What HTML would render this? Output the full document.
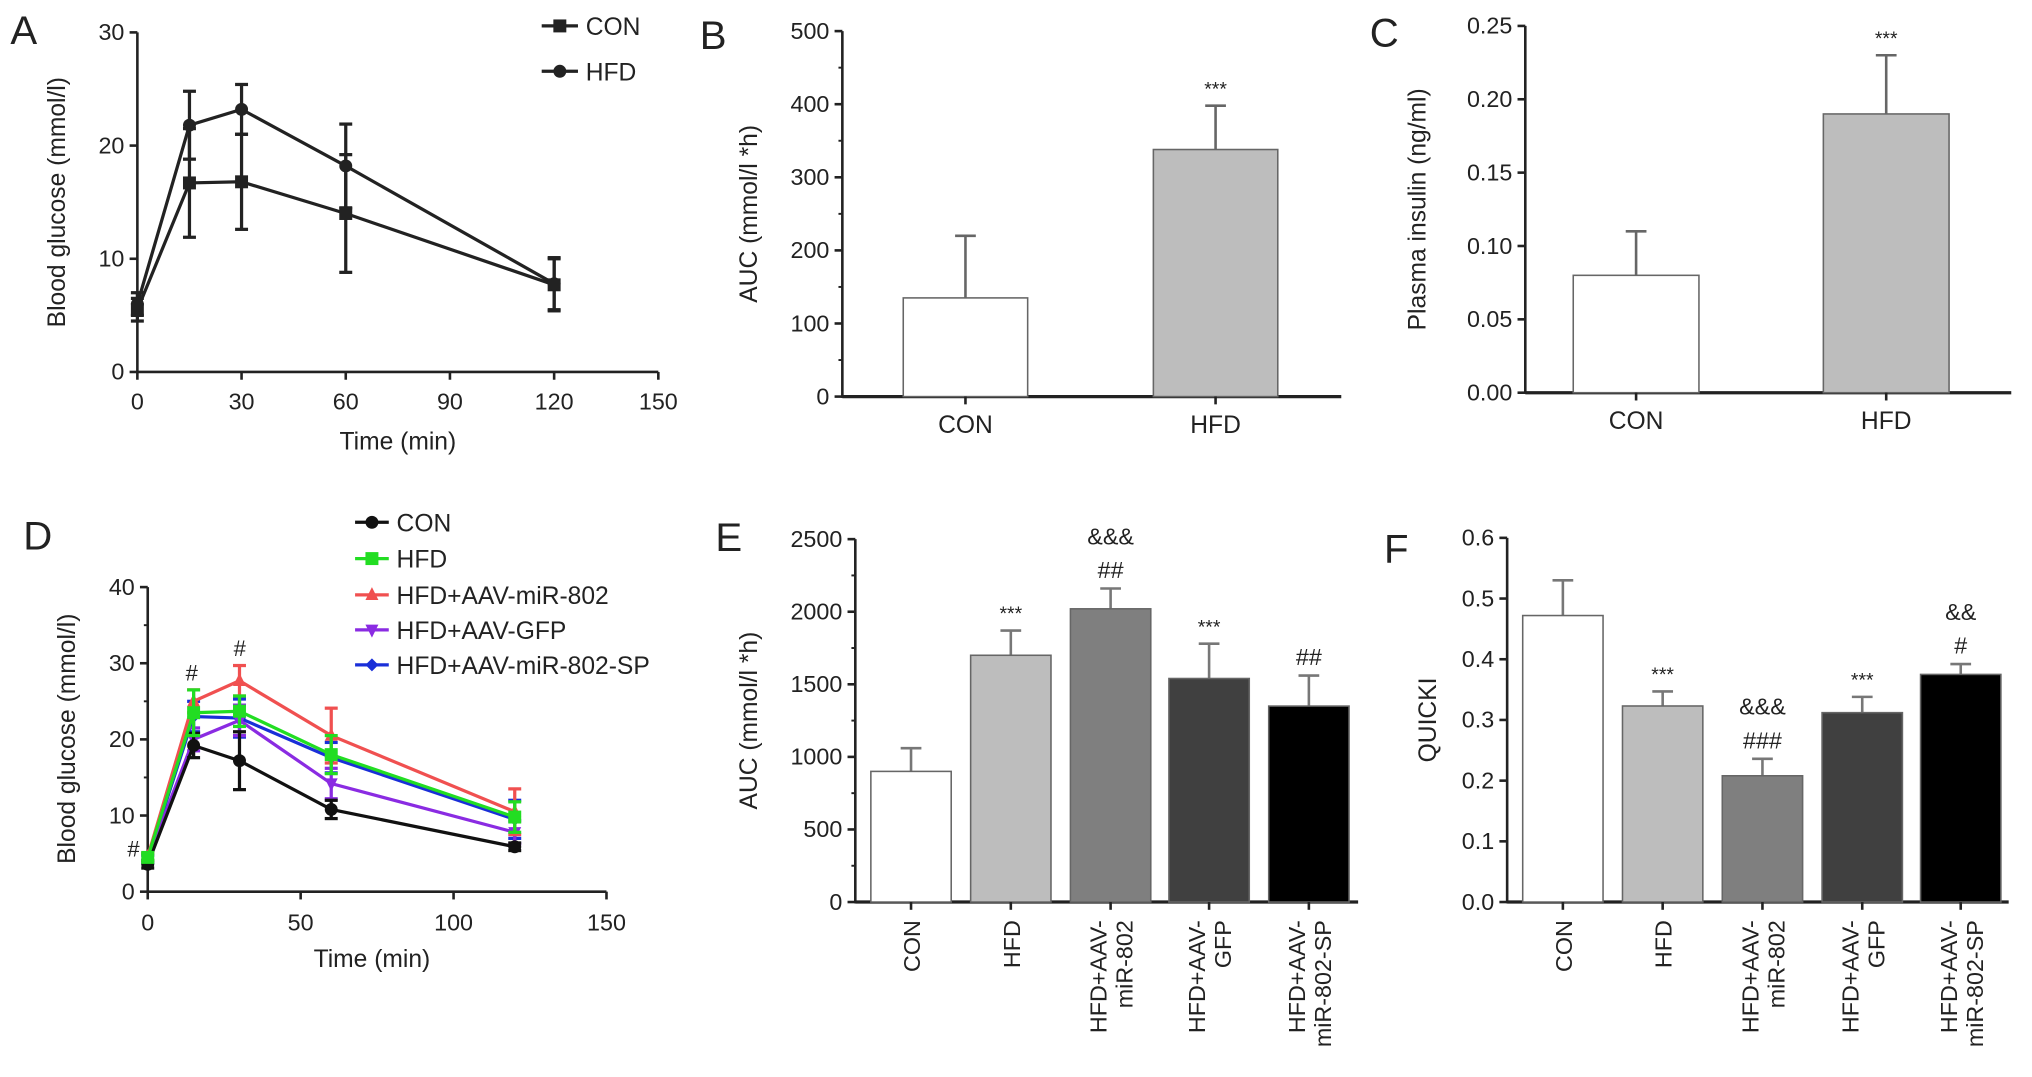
<!DOCTYPE html>
<html><head><meta charset="utf-8"><style>
html,body{margin:0;padding:0;background:#fff;}
svg{display:block;font-family:"Liberation Sans",sans-serif;}
</style></head><body>
<svg id="fig" width="2032" height="1077" viewBox="0 0 1568 831" preserveAspectRatio="none"></svg>
<script>
// Panel A data
const aTimes=[0,15,30,60,120];
const aCon=[5.5,16.7,16.8,14.0,7.7];
const aConErr=[1.0,4.8,4.2,5.2,2.3];
const aHfd=[6.0,21.8,23.2,18.2,7.8];
const aHfdErr=[1.0,3.0,2.2,3.7,2.3];
// Panel B data
const bCats=["CON","HFD"];
const bVals=[135,338];
const bErr=[85,60];
// Panel C data
const cCats=["CON","HFD"];
const cVals=[0.08,0.19];
const cErr=[0.03,0.04];
// Panel D data
const dTimes=[0,15,30,60,120];
const dNames=["CON","HFD","HFD+AAV-miR-802","HFD+AAV-GFP","HFD+AAV-miR-802-SP"];
const dCon=[3.6,19.2,17.2,10.8,5.9];
const dHfd=[4.5,23.5,23.7,18.0,9.8];
const dMir=[4.6,25.0,27.7,20.5,10.5];
const dGfp=[4.3,20.0,22.5,14.2,7.8];
const dSp=[4.3,23.0,22.8,17.6,9.5];
const dConErr=[0.5,1.6,3.8,1.2,0.5];
const dHfdErr=[0.5,3.0,2.0,2.5,2.0];
const dMirErr=[0.5,1.5,2.0,3.6,3.0];
const dGfpErr=[0.5,1.5,2.0,2.0,1.5];
const dSpErr=[0.5,2.0,2.5,2.0,2.5];
// Panel E / F data
const efCats=[["CON"],["HFD"],["HFD+AAV-","miR-802"],["HFD+AAV-","GFP"],["HFD+AAV-","miR-802-SP"]];
const eVals=[900,1700,2020,1540,1350];
const eErr=[160,170,140,240,210];
const eMarks=[[],["***"],["&&&","##"],["***"],["##"]];
const fVals=[0.472,0.323,0.208,0.312,0.375];
const fErr=[0.058,0.024,0.028,0.026,0.017];
const fMarks=[[],["***"],["&&&","###"],["***"],["&&","#"]];

const NS="http://www.w3.org/2000/svg";
const svg=document.getElementById('fig');
function mk(tag,attrs,parent,name){
  const e=document.createElementNS(NS,tag);
  for(const k in attrs)e.setAttribute(k,attrs[k]);
  
  
  (parent||svg).appendChild(e);return e;
}
function txt(x,y,s,size,anchor,parent,name,extra){
  const t=mk('text',Object.assign({x:x,y:y,'font-size':size,'text-anchor':anchor||'middle',fill:'#222'},extra||{}),parent,name);
  t.textContent=s;return t;
}
function line(x1,y1,x2,y2,w,col,parent,name){return mk('line',{x1,y1,x2,y2,stroke:col||'#222','stroke-width':w||2},parent,name);}
function scale(d0,d1,r0,r1){return v=>r0+(v-d0)/(d1-d0)*(r1-r0);}

function yAxis(g,x,y0,y1,ticks,fmt,sy,minor){
  line(x,y0+1,x,y1,2,'#222',g,'y-axis-line');
  ticks.forEach(v=>{const y=sy(v);line(x-6,y,x,y,2,'#222',g,'y-tick');txt(x-10,y+6,fmt(v),18,'end',g,'y-tick-label');});
  if(minor)minor.forEach(v=>{const y=sy(v);line(x-3,y,x,y,1.5,'#222',g,'y-minor-tick');});
}
function panelLetter(x,y,s){txt(x,y,s,31,'start',svg,'panel-label-'+s.toLowerCase());}
function yTitle(g,x,y,s,name){txt(x,y,s,19,'middle',g,name,{transform:`rotate(-90 ${x} ${y})`});}

function lineChart(g,times,series,errs,colors,markers,sx,sy,prefix){
  series.forEach((vals,si)=>{
    const pts=times.map((t,i)=>sx(t)+','+sy(vals[i])).join(' ');
    mk('polyline',{points:pts,fill:'none',stroke:colors[si],'stroke-width':2.5},g,prefix+'-line-'+si);
    times.forEach((t,i)=>{
      const x=sx(t),yt=sy(vals[i]+errs[si][i]),yb=sy(vals[i]-errs[si][i]);
      line(x,yt,x,yb,2.5,colors[si],g,prefix+'-errorbar');
      line(x-5,yt,x+5,yt,2.5,colors[si],g,prefix+'-errorcap');
      line(x-5,yb,x+5,yb,2.5,colors[si],g,prefix+'-errorcap');
      marker(g,markers[si],x,sy(vals[i]),colors[si],prefix+'-point');
    });
  });
}
function marker(g,type,x,y,c,name){
  const r=5;
  if(type==='sq')mk('rect',{x:x-r,y:y-r,width:2*r,height:2*r,fill:c},g,name);
  else if(type==='tri')mk('polygon',{points:`${x},${y-r-1} ${x-r},${y+r-1} ${x+r},${y+r-1}`,fill:c},g,name);
  else if(type==='dtri')mk('polygon',{points:`${x},${y+r+1} ${x-r},${y-r+1} ${x+r},${y-r+1}`,fill:c},g,name);
  else if(type==='dia')mk('polygon',{points:`${x},${y-r} ${x+r},${y} ${x},${y+r} ${x-r},${y}`,fill:c},g,name);
  else mk('circle',{cx:x,cy:y,r:r,fill:c},g,name);
}

// ---------- Panel A
(function(){
  const g=mk('g',{},svg,'panel-a');
  panelLetter(8,34,'A');
  const sx=scale(0,150,106,508), sy=scale(0,30,287,25);
  yAxis(g,106,287,25,[0,10,20,30],v=>v,sy);
  line(106,287,508,287,2,'#222',g,'x-axis-line');
  [0,30,60,90,120,150].forEach(v=>{const x=sx(v);line(x,287,x,293,2,'#222',g,'x-tick');txt(x,316,v,18,'middle',g,'x-tick-label');});
  txt(307,347,'Time (min)',19,'middle',g,'x-axis-title');
  yTitle(g,50,156,'Blood glucose (mmol/l)','y-axis-title');
  lineChart(g,aTimes,[aCon,aHfd],[aConErr,aHfdErr],['#222','#222'],['sq','circ'],sx,sy,'a');
  const L=[['CON','sq',20],['HFD','circ',55]];
  L.forEach(([n,m,y])=>{line(418,y,446,y,2.5,'#222',g,'legend-line');marker(g,m,432,y,'#222','legend-marker');txt(452,y+7,n,19,'start',g,'legend-label');});
})();

// ---------- Bar chart helper
function barChart(opts){
  const g=mk('g',{},svg,opts.name);
  const sy=scale(opts.d0,opts.d1,opts.y0,opts.y1);
  yAxis(g,opts.ax,opts.y0,opts.y1,opts.ticks,opts.fmt,sy,opts.minor);
  line(opts.ax,opts.y0,opts.axEnd,opts.y0,2.5,'#222',g,'x-axis-line');
  opts.vals.forEach((v,i)=>{
    const x=opts.bx[i], w=opts.bw, top=sy(v), etop=sy(v+opts.err[i]), cx=x+w/2;
    line(cx,top,cx,etop,2,opts.errCol||'#777',g,'error-bar');
    line(cx-8,etop,cx+8,etop,2,opts.errCol||'#777',g,'error-cap');
    mk('rect',{x:x,y:top,width:w,height:opts.y0-top,fill:opts.fills[i],stroke:'#666','stroke-width':1.2},g,'bar-'+i);
    line(cx,opts.y0,cx,opts.y0+6,2,'#222',g,'x-tick');
    if(opts.marks){const mks=opts.marks[i];mks.forEach((s,j)=>{const y=etop-8-(mks.length-1-j)*26;txt(cx,y,s,s.indexOf('*')>=0?15:18,'middle',g,'significance-mark');});}
    const lab=opts.cats[i];
    if(opts.rotate){
      lab.forEach((s,j)=>{const lx=cx-(lab.length-1)*10+j*20+7, ly=opts.y0+14;txt(lx,ly,s,18,'end',g,'x-tick-label',{transform:`rotate(-90 ${lx} ${ly})`});});
    } else txt(cx,opts.y0+28,lab,19,'middle',g,'x-tick-label');
  });
  yTitle(g,opts.tx,(opts.y0+opts.y1)/2,opts.title,'y-axis-title');
  return g;
}

// ---------- Panel B
panelLetter(540,38,'B');
barChart({name:'panel-b',ax:650,axEnd:1035,y0:306,y1:24,d0:0,d1:500,ticks:[0,100,200,300,400,500],fmt:v=>v,
  minor:[50,150,250,350,450],vals:bVals,err:bErr,bx:[697,890],bw:96,fills:['#fff','#bdbdbd'],cats:bCats,
  marks:[[],["***"]],tx:584,title:'AUC (mmol/l *h)',errCol:'#666'});

// ---------- Panel C
panelLetter(1057,36,'C');
barChart({name:'panel-c',ax:1177,axEnd:1552,y0:303,y1:20,d0:0,d1:0.25,ticks:[0,0.05,0.1,0.15,0.2,0.25],fmt:v=>v.toFixed(2),
  vals:cVals,err:cErr,bx:[1214,1407],bw:97,fills:['#fff','#bdbdbd'],cats:cCats,
  marks:[[],["***"]],tx:1100,title:'Plasma insulin (ng/ml)',errCol:'#666'});

// ---------- Panel D
(function(){
  const g=mk('g',{},svg,'panel-d');
  panelLetter(18,424,'D');
  const sx=scale(0,150,114,468), sy=scale(0,40,688,453);
  yAxis(g,114,688,453,[0,10,20,30,40],v=>v,sy,[5,15,25,35]);
  line(114,688,468,688,2,'#222',g,'x-axis-line');
  [0,50,100,150].forEach(v=>{const x=sx(v);line(x,688,x,694,2,'#222',g,'x-tick');txt(x,718,v,18,'middle',g,'x-tick-label');});
  txt(287,746,'Time (min)',19,'middle',g,'x-axis-title');
  yTitle(g,58,570,'Blood glucose (mmol/l)','y-axis-title');
  const cols=['#111','#22dd22','#f05050','#8a2be2','#1a2fd8'];
  const mks=['circ','sq','tri','dtri','dia'];
  const order=[4,3,2,0,1];
  const S=[dCon,dHfd,dMir,dGfp,dSp], E=[dConErr,dHfdErr,dMirErr,dGfpErr,dSpErr];
  order.forEach(i=>lineChart(g,dTimes,[S[i]],[E[i]],[cols[i]],[mks[i]],sx,sy,'d-'+i));
  txt(103,661,'#',17,'middle',g,'significance-mark');
  txt(148,525,'#',17,'middle',g,'significance-mark');
  txt(185,506,'#',17,'middle',g,'significance-mark');
  const ly=[403,431,459,486,513];
  dNames.forEach((n,i)=>{line(274,ly[i],300,ly[i],2.5,cols[i],g,'legend-line');marker(g,mks[i],287,ly[i],cols[i],'legend-marker');txt(306,ly[i]+7,n,19,'start',g,'legend-label');});
})();

// ---------- Panel E
panelLetter(552,425,'E');
barChart({name:'panel-e',ax:660,axEnd:1048,y0:696,y1:416,d0:0,d1:2500,ticks:[0,500,1000,1500,2000,2500],fmt:v=>v,
  minor:[250,750,1250,1750,2250],vals:eVals,err:eErr,bx:[672,749,826,902,979],bw:62,
  fills:['#fff','#bdbdbd','#7f7f7f','#404040','#000'],cats:efCats,rotate:true,marks:eMarks,tx:584,title:'AUC (mmol/l *h)',errCol:'#777'});

// ---------- Panel F
panelLetter(1068,434,'F');
barChart({name:'panel-f',ax:1163,axEnd:1550,y0:696,y1:415,d0:0,d1:0.6,ticks:[0,0.1,0.2,0.3,0.4,0.5,0.6],fmt:v=>v.toFixed(1),
  vals:fVals,err:fErr,bx:[1175,1252,1329,1406,1482],bw:62,
  fills:['#fff','#bdbdbd','#7f7f7f','#404040','#000'],cats:efCats,rotate:true,marks:fMarks,tx:1108,title:'QUICKI',errCol:'#777'});
</script>
</body></html>
